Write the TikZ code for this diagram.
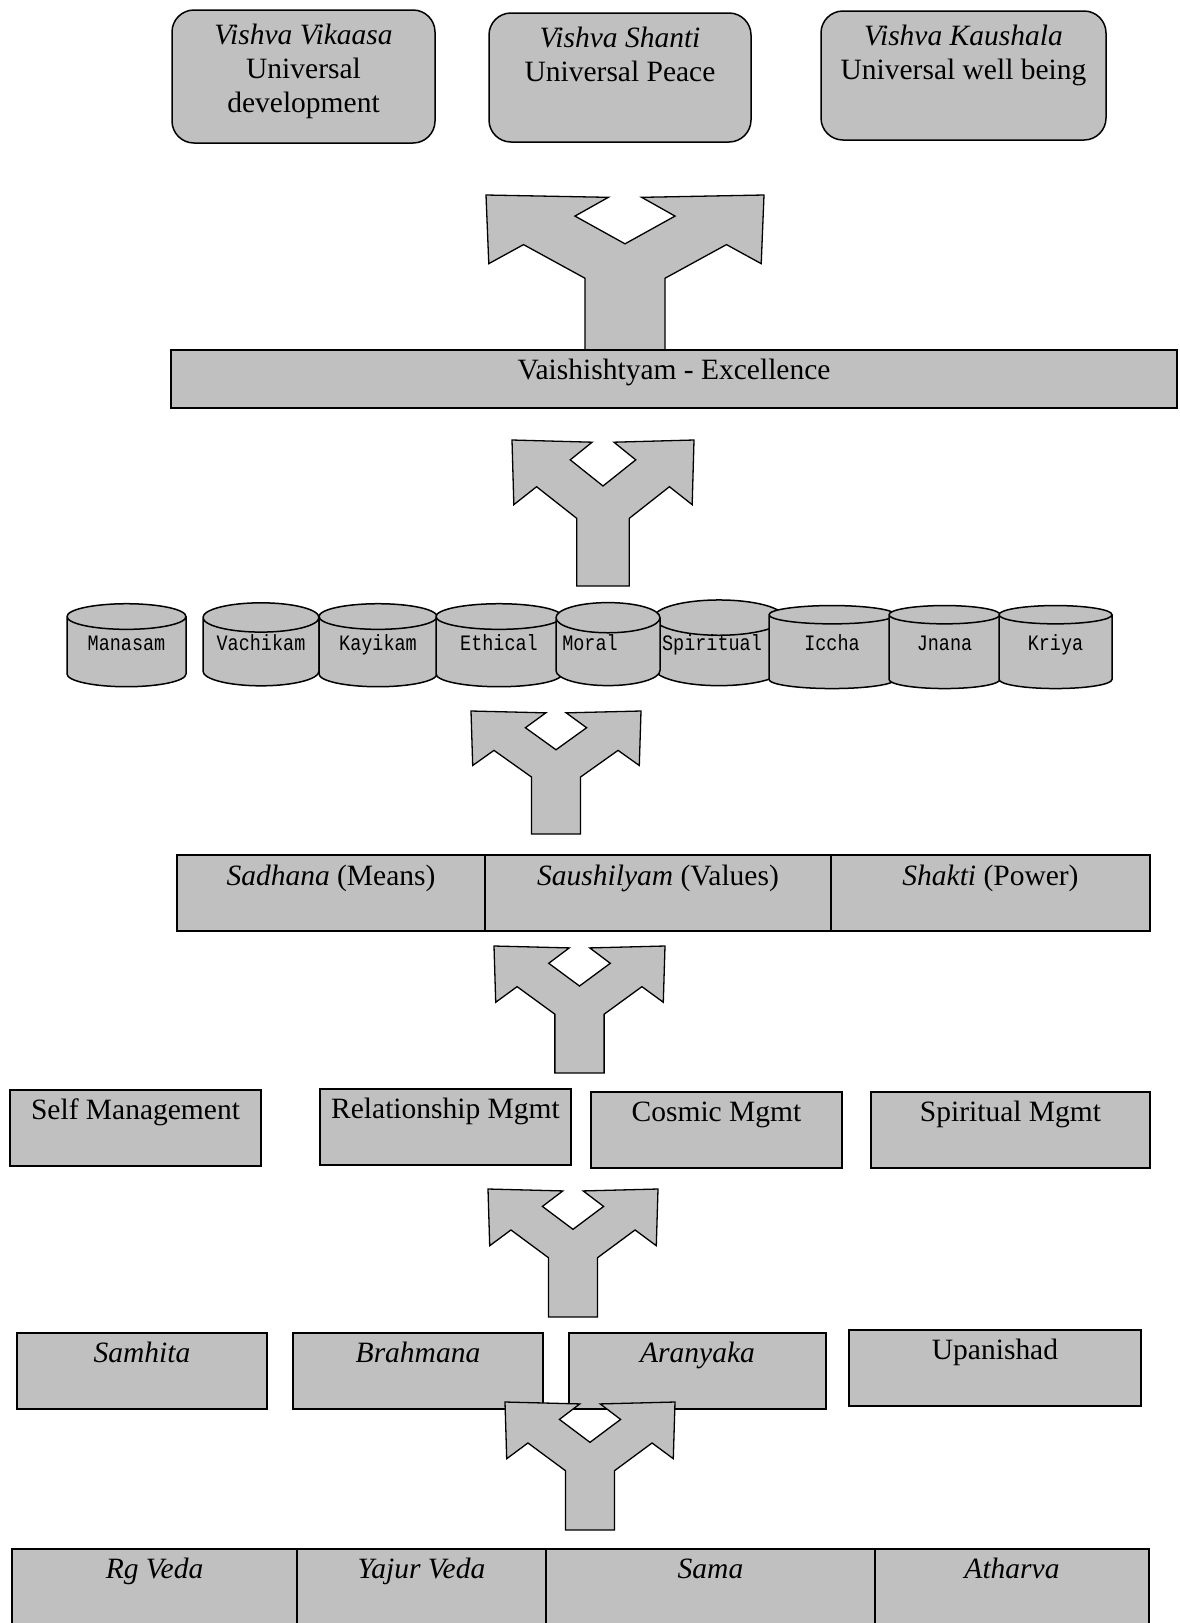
\documentclass[tikz,border=0pt]{standalone}
\usepackage{fontspec}
\setmainfont{Liberation Serif}
\newfontfamily\cylfont{Liberation Mono}[FakeStretch=0.84]
\usetikzlibrary{positioning,shapes.geometric}
\definecolor{boxgray}{RGB}{192,192,192}

\begin{document}
\begin{tikzpicture}[x=1pt, y=-1pt, font=\fontsize{29.5}{34}\selectfont]
    \tikzset{%
      shade/.style={fill=boxgray, draw, line width=1.5pt},
      goal/.style={shade, rounded corners=22pt, inner sep=0pt, outer sep=0pt, anchor=north west},
      txt/.style={inner sep=0pt, align=center},
      cell/.style={shade, inner sep=0pt, outer sep=0pt, text height=29pt, text depth=47pt},
      drum/.style={shade, cylinder, shape border rotate=90, aspect=0.33, minimum height=83pt,
        inner sep=0pt, outer sep=0pt, text height=14pt, text depth=18pt,
        font=\cylfont\fontsize{22}{24}\selectfont},
      splitarr/.pic={
        \draw[shade, line width=1.3pt] (-0.5,0) -- (-0.06,0.015) -- (-0.18,0.136) -- (0,0.315)
          -- (0.18,0.136) -- (0.06,0.015) -- (0.5,0) -- (0.49,0.443) -- (0.365,0.32)
          -- (0.144,0.537) -- (0.144,1) -- (-0.144,1) -- (-0.144,0.537) -- (-0.365,0.32)
          -- (-0.49,0.443) -- cycle;
      }
    }
    \useasboundingbox (0,0) rectangle (1180,1623);

    % goals
    \node [goal, minimum width=263pt, minimum height=133pt] (vikaasa) at (172,10) {};
    \node [txt, below=14pt of vikaasa.north] (vikaasaT) {\textit{Vishva Vikaasa}\\Universal\\development};
    \node [goal, minimum width=262pt, minimum height=129pt] (shanti) at (489,13) {};
    \node [txt, below=13.5pt of shanti.north] (shantiT) {\textit{Vishva Shanti}\\Universal Peace};
    \node [goal, minimum width=285pt, minimum height=129pt] (kaushala) at (821,11) {};
    \node [txt, below=13.5pt of kaushala.north] (kaushalaT) {\textit{Vishva Kaushala}\\Universal well being};

    \pic [xscale=278, yscale=155] (arrA) at (625,195) {splitarr};
    \node [cell, text depth=29pt, minimum width=1006pt, anchor=north west] (excel) at (171,350) {Vaishishtyam - Excellence};

    \pic [xscale=182, yscale=146] (arrB) at (603,440) {splitarr};

    % drums
    \node [drum, minimum width=119pt] (manasam) at (126.5,652) {Manasam};
    \node [drum, minimum width=116pt] (vachikam) at (261,652) {Vachikam};
    \node [drum, minimum width=118pt] (kayikam) at (378,652) {Kayikam};
    \node [drum, minimum width=126pt] (ethical) at (499,652) {Ethical};
    \node [drum, minimum width=130pt, aspect=0.31] (spiritual) at (719,652) {Spiritual\hspace*{14pt}};
    \node [drum, minimum width=104pt] (moral) at (608,652) {Moral\hspace*{36pt}};
    \node [drum, minimum width=126pt] (iccha) at (832,652) {Iccha};
    \node [drum, minimum width=111pt] (jnana) at (944.5,652) {Jnana};
    \node [drum, minimum width=113pt] (kriya) at (1055.5,652) {Kriya};

    \pic [xscale=170, yscale=123] (arrC) at (556,711) {splitarr};

    \node [cell, text height=30pt, text depth=46pt, minimum width=308pt, anchor=north west] (sadhana) at (177,855) {\textit{Sadhana} (Means)};
    \node [cell, text height=30pt, text depth=46pt, minimum width=346pt, right=0pt of sadhana] (saushilyam) {\textit{Saushilyam} (Values)};
    \node [cell, text height=30pt, text depth=46pt, minimum width=319pt, right=0pt of saushilyam] (shakti) {\textit{Shakti} (Power)};

    \pic [xscale=171, yscale=127] (arrD) at (579.5,946) {splitarr};

    % management
    \node [cell, minimum width=251pt, anchor=north west] (selfm) at (10,1090) {Self Management};
    \node [cell, minimum width=251pt, anchor=north west] (relm) at (320,1089) {Relationship Mgmt};
    \node [cell, minimum width=251pt, anchor=north west] (cosmicm) at (591,1092) {Cosmic Mgmt};
    \node [cell, minimum width=279pt, anchor=north west] (spiritm) at (871,1092) {Spiritual Mgmt};

    \pic [xscale=170, yscale=128] (arrE) at (573,1189) {splitarr};

    \node [cell, minimum width=250pt, anchor=north west] (samhita) at (17,1333) {\textit{Samhita}};
    \node [cell, minimum width=250pt, anchor=north west] (brahmana) at (293,1333) {\textit{Brahmana}};
    \node [cell, minimum width=257pt, anchor=north west] (aranyaka) at (569,1333) {\textit{Aranyaka}};
    \node [cell, minimum width=292pt, anchor=north west] (upanishad) at (849,1330) {Upanishad};

    \pic [xscale=170, yscale=128] (arrF) at (590,1402) {splitarr};

    % vedas
    \node [cell, text depth=70pt, minimum width=285pt, anchor=north west] (rg) at (12,1549) {\textit{Rg Veda}};
    \node [cell, text depth=70pt, minimum width=249pt, right=0pt of rg] (yajur) {\textit{Yajur Veda}};
    \node [cell, text depth=70pt, minimum width=329pt, right=0pt of yajur] (sama) {\textit{Sama}};
    \node [cell, text depth=70pt, minimum width=274pt, right=0pt of sama] (atharva) {\textit{Atharva}};

  \end{tikzpicture}
\end{document}
